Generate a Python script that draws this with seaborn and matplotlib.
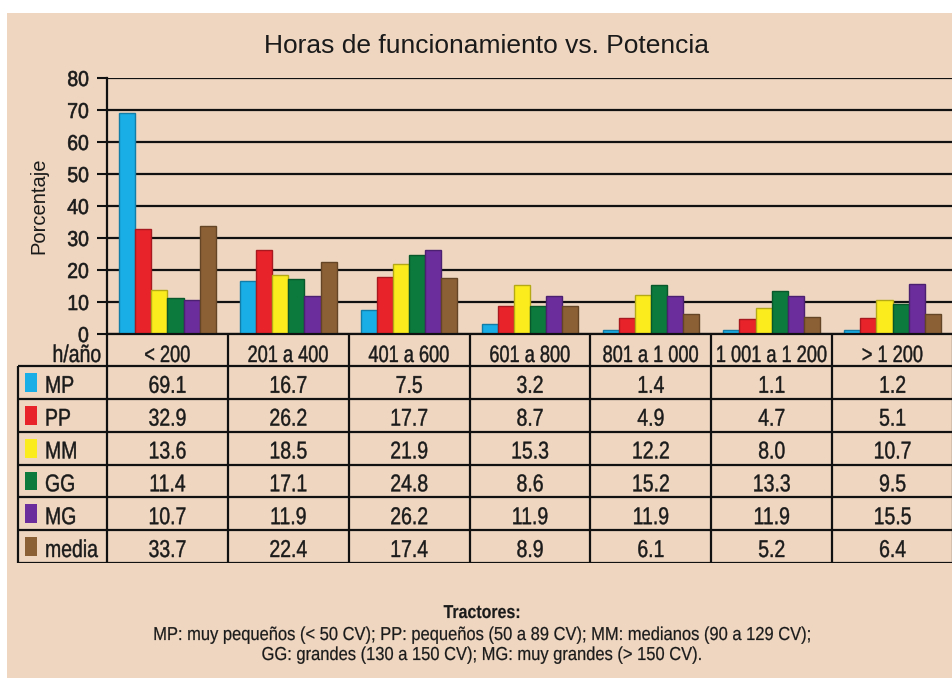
import matplotlib
matplotlib.use("Agg")
import matplotlib.pyplot as plt
import matplotlib.colors as mcolors
from matplotlib.patches import Rectangle
from matplotlib.transforms import Affine2D
from matplotlib import patheffects
import seaborn as sns
import pandas as pd

# ---------------- data ----------------
categories = ["< 200", "201 a 400", "401 a 600", "601 a 800",
              "801 a 1 000", "1 001 a 1 200", "> 1 200"]
series = ["MP", "PP", "MM", "GG", "MG", "media"]
MP = [69.1, 16.7, 7.5, 3.2, 1.4, 1.1, 1.2]
PP = [32.9, 26.2, 17.7, 8.7, 4.9, 4.7, 5.1]
MM = [13.6, 18.5, 21.9, 15.3, 12.2, 8.0, 10.7]
GG = [11.4, 17.1, 24.8, 8.6, 15.2, 13.3, 9.5]
MG = [10.7, 11.9, 26.2, 11.9, 11.9, 11.9, 15.5]
media = [33.7, 22.4, 17.4, 8.9, 6.1, 5.2, 6.4]
yticks = [0, 10, 20, 30, 40, 50, 60, 70, 80]
title = "Horas de funcionamiento vs. Potencia"
ylabel = "Porcentaje"
header_label = "h/año"
note_title = "Tractores:"
note_lines = ["MP: muy pequeños (< 50 CV); PP: pequeños (50 a 89 CV); MM: medianos (90 a 129 CV);",
              "GG: grandes (130 a 150 CV); MG: muy grandes (> 150 CV)."]

values = {"MP": MP, "PP": PP, "MM": MM, "GG": GG, "MG": MG, "media": media}
colors = ["#19aee6", "#e8232a", "#fbec1d", "#0b7a3c", "#6a2d9b", "#8b6034"]
palette = dict(zip(series, colors))

df = pd.DataFrame([(c, s, values[s][i]) for s in series for i, c in enumerate(categories)],
                  columns=["rango", "tipo", "pct"])

# ---------------- style ----------------
sns.set_theme(style="white")
BG = "#eed6c1"
TXT = "#1a1a1a"
FAM = ["Liberation Sans", "DejaVu Sans"]
plt.rcParams["font.family"] = FAM


class Squeeze(patheffects.AbstractPathEffect):
    """Scale a text's glyphs around its anchor point (condensed look), with optional thickening."""

    def __init__(self, text, sx, stroke=0.0, sy=1.0):
        super().__init__()
        self.text = text
        self.sx = sx
        self.sy = sy
        self.stroke = stroke

    def draw_path(self, renderer, gc, tpath, affine, rgbFace=None):
        x0, y0 = self.text.get_transform().transform(self.text.get_unitless_position())
        aff = affine + Affine2D().translate(-x0, -y0).scale(self.sx, self.sy).translate(x0, y0)
        renderer.draw_path(gc, tpath, aff, rgbFace)
        if self.stroke > 0 and rgbFace is not None:
            gc0 = renderer.new_gc()
            gc0.copy_properties(gc)
            gc0.set_linewidth(self.stroke)
            gc0.set_foreground(rgbFace)
            renderer.draw_path(gc0, tpath, aff, None)
            gc0.restore()


def stext(target, x, y, s, size, sx, stroke=0.3, sy=1.0, **kw):
    t = target.text(x, y, s, fontsize=size, color=TXT, **kw)
    t.set_path_effects([Squeeze(t, sx, stroke, sy)])
    return t


W, H = 953, 678
fig = plt.figure(figsize=(W / 100, H / 100), dpi=100, facecolor="white")


def rect(l, t, r, b):
    return [l / W, 1 - b / H, (r - l) / W, (b - t) / H]


fig.patches.append(Rectangle((7 / W, 0), (W - 7) / W, (H - 13) / H,
                             transform=fig.transFigure, facecolor=BG,
                             edgecolor="none", zorder=-10))

L, R, T, B = 107, 953, 78, 334
ax = fig.add_axes(rect(L, T, R, B))
ax.set_facecolor("none")

sns.barplot(data=df, x="rango", y="pct", hue="tipo", order=categories,
            hue_order=series, palette=palette, saturation=1, width=0.8,
            legend=False, ax=ax, zorder=3)
for p in ax.patches:
    fc = mcolors.to_rgb(p.get_facecolor())
    p.set_edgecolor(tuple(c * 0.72 for c in fc))
    p.set_linewidth(1.0)

ax.set_xlim(-0.5, len(categories) - 0.5)
ax.set_ylim(0, 80)
ax.set_yticks(yticks)
ax.set_yticklabels([str(v) for v in yticks], fontsize=15.5, color=TXT)
for lab in ax.get_yticklabels():
    lab.set_path_effects([Squeeze(lab, 0.9, 0.45)])
ax.set_xticks([])
ax.set_xlabel("")
ax.set_ylabel(ylabel, fontsize=14.5, color=TXT, labelpad=12)
ax.yaxis.grid(True, color="#111111", linewidth=1.6, zorder=0)
ax.set_axisbelow(True)
ax.tick_params(axis="y", direction="out", length=7, width=1.5, color="#111111",
               pad=6, left=True)
for s in ["top", "right"]:
    ax.spines[s].set_visible(False)
for s in ["left", "bottom"]:
    ax.spines[s].set_color("#111111")
    ax.spines[s].set_linewidth(1.6)
    ax.spines[s].set_zorder(4)

fig.text(487 / W, 1 - 53 / H, title, ha="center", va="baseline", fontsize=19,
         color=TXT)

# ---------------- table ----------------
TB = 563
tax = fig.add_axes(rect(0, B, W, TB))
tax.set_xlim(0, W)
tax.set_ylim(TB, B)
tax.axis("off")
tax.set_facecolor("none")

ncol = len(categories)
cw = (R - L) / ncol
col_edges = [L + i * cw for i in range(ncol + 1)]
header_bottom = 366
rh = (TB - header_bottom) / len(series)
row_edges = [header_bottom + k * rh for k in range(len(series) + 1)]
LC = "#111111"
TL = 18
TS = 17.5
SX = 0.8

for x in col_edges:
    tax.plot([x, x], [B, TB], color=LC, lw=1.6, solid_capstyle="butt")
tax.plot([TL, TL], [header_bottom, TB], color=LC, lw=1.6, solid_capstyle="butt")
for y in row_edges:
    tax.plot([TL, W], [y, y], color=LC, lw=1.6, solid_capstyle="butt")

stext(tax, 101, 362, header_label, TS, SX, ha="right", va="baseline")
# header labels: set at 14 pt, scaled to look like condensed 17 pt
HS = 14.0
for i, c in enumerate(categories):
    stext(tax, col_edges[i] + cw / 2, 362, c, HS, 0.77 * 17 / HS, 0.3, 17 / HS,
          ha="center", va="baseline")

for k, s in enumerate(series):
    base = row_edges[k + 1] - 6
    tax.add_patch(Rectangle((25, row_edges[k] + 7), 12, rh - 14,
                            facecolor=palette[s], edgecolor="none"))
    stext(tax, 45, base, s, TS, SX, ha="left", va="baseline")
    for i, v in enumerate(values[s]):
        stext(tax, col_edges[i] + cw / 2, base, f"{v:.1f}", TS, SX,
              ha="center", va="baseline")

# ---------------- footnote ----------------
stext(fig, 482 / W, 1 - 618 / H, note_title, 13.5, 0.85, 0.1, ha="center",
      va="baseline", fontweight="bold")
stext(fig, 482 / W, 1 - 640 / H, note_lines[0], 13.5, 0.88, 0.15, ha="center",
      va="baseline")
stext(fig, 482 / W, 1 - 660 / H, note_lines[1], 13.5, 0.88, 0.15, ha="center",
      va="baseline")

fig.savefig("out.png", dpi=100, facecolor="white")
